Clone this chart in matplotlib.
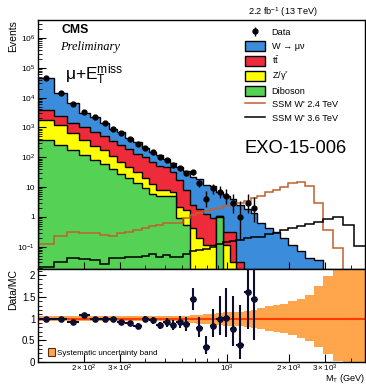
import numpy as np
import matplotlib
matplotlib.use('Agg')
from matplotlib import pyplot as plt
from matplotlib.patches import Patch
from matplotlib.lines import Line2D
from matplotlib.ticker import FixedLocator, FixedFormatter, NullFormatter

plt.rcParams['font.family'] = ['Liberation Sans', 'DejaVu Sans']
plt.rcParams['mathtext.fontset'] = 'custom'
plt.rcParams['mathtext.rm'] = 'Liberation Sans'
plt.rcParams['mathtext.it'] = 'Liberation Sans:italic'
plt.rcParams['mathtext.bf'] = 'Liberation Sans:bold'
plt.rcParams['xtick.direction'] = 'in'
plt.rcParams['ytick.direction'] = 'in'

# M_T binning (GeV)
bin_edges = [120, 143, 167, 190, 214, 241, 265, 291, 320, 350,
             383, 417, 452, 489, 526, 566, 611, 656, 705, 762,
             822, 886, 956, 1028, 1107, 1205, 1314, 1401, 1531, 1674,
             1811, 1982, 2191, 2398, 2651, 2931, 3279, 3667, 4147, 4690]

# Background yields per bin
wmunu = [41700, 11600, 5070, 1960, 1560, 878, 547, 453, 268, 201,
         105, 86, 70, 42, 33, 30.7, 26, 19.5, 16.2, 10.7,
         9.8, 6.0, 4.6, 3.6, 2.5, 1.85, 1.37, 0.63, 0.43, 0.31,
         0.2, 0.116, 0.073, 0.042, 0.036, 0, 0, 0, 0]
ttbar = [2036, 1196, 748, 647, 459, 338, 238, 187, 141, 96,
         82, 56, 43, 39, 25, 15.1, 6.3, 2.1, 1.65, 1.14,
         0.81, 0.04, 0.19, 0.28, 0.02, 0, 0, 0, 0, 0,
         0, 0, 0, 0, 0, 0, 0, 0, 0]
dy = [1378, 938, 471, 258, 156, 115, 70, 42, 27, 18.3,
      10.7, 6.8, 3.0, 3.0, 1.9, 1.23, 1.17, 0.43, 0.2, 0.116,
      0.116, 0.04, 0.116, 0.031, 0.011, 0, 0, 0, 0, 0,
      0, 0, 0, 0, 0, 0, 0, 0, 0]
diboson = [376, 256, 174, 118, 81, 59, 40, 27, 20, 13.7,
           9.3, 5.9, 5.0, 5.0, 5.0, 0.93, 0.54, 0, 0, 0,
           0, 1.0, 0, 0, 0, 0, 0, 0, 0, 0,
           0, 0, 0, 0, 0, 0, 0, 0, 0]

# Signal templates
ssm_2400 = [0.125, 0.23, 0.315, 0.29, 0.29, 0.25, 0.23, 0.29, 0.315, 0.37,
            0.43, 0.5, 0.54, 0.63, 0.63, 0.63, 0.9, 1.2, 1.4, 1.6,
            1.85, 2.0, 2.3, 2.6, 2.9, 3.3, 4.2, 5.2, 6.6, 8.3,
            10.1, 13.7, 14.8, 11.2, 2.94, 0.37, 0.092, 0, 0]
ssm_3600 = [0.021, 0.031, 0.042, 0.039, 0.037, 0.027, 0.042, 0.042, 0.046, 0.046,
            0.05, 0.058, 0.046, 0.054, 0.046, 0.046, 0.058, 0.073, 0.079, 0.085,
            0.099, 0.125, 0.146, 0.158, 0.17, 0.19, 0.21, 0.22, 0.26, 0.3,
            0.36, 0.42, 0.48, 0.56, 0.68, 0.86, 1.0, 0.54, 0.107]

# Observed events with Poisson errors
data = [44600, 14000, 6010, 3250, 2210, 1390, 877, 645, 406, 276,
        203, 149, 102, 81, 55, 44, 30, 32, 14, 4,
        9, 7, 5, 3, 1, 3, 2]
data_lo = [211, 118, 78, 57, 47, 37, 30, 25, 20, 17,
           14, 12, 10, 9, 7.4, 6.6, 5.5, 5.7, 3.7, 1.9,
           2.9, 2.6, 2.2, 1.6, 0.83, 1.6, 1.3]
data_hi = [211, 118, 78, 57, 47, 37, 30, 25, 20, 17,
           14, 12, 10, 9, 7.4, 6.6, 5.5, 5.7, 4.8, 3.2,
           4.1, 3.8, 3.4, 2.9, 2.3, 2.9, 2.6]

# Relative systematic uncertainty on the total background
syst_up = [0.05, 0.05, 0.05, 0.05, 0.05, 0.05, 0.05, 0.05, 0.05, 0.05,
           0.05, 0.05, 0.06, 0.06, 0.06, 0.07, 0.07, 0.08, 0.09, 0.10,
           0.11, 0.12, 0.14, 0.15, 0.16, 0.18, 0.20, 0.24, 0.28, 0.31,
           0.34, 0.40, 0.46, 0.55, 0.76, 0.98, 1.3, 1.6, 1.8]
syst_dn = [0.05, 0.05, 0.05, 0.05, 0.05, 0.05, 0.05, 0.05, 0.05, 0.05,
           0.05, 0.05, 0.06, 0.06, 0.06, 0.07, 0.07, 0.10, 0.12, 0.13,
           0.14, 0.15, 0.16, 0.17, 0.18, 0.20, 0.22, 0.25, 0.28, 0.31,
           0.33, 0.38, 0.44, 0.52, 0.65, 0.82, 0.97, 1.0, 1.0]

col_w = '#3b8ddc'
col_tt = '#ee2b3b'
col_z = '#ffff00'
col_vv = '#55d155'
col_sig = '#c0602e'
col_band = '#ffa64d'

edges = np.array(bin_edges, dtype=float)
centers = 0.5 * (edges[:-1] + edges[1:])
w = np.array(wmunu)
tt = np.array(ttbar)
zg = np.array(dy)
vv = np.array(diboson)
n = len(data)
yd = np.array(data, dtype=float)
xd = centers[:n]

fig = plt.figure(figsize=(3.66, 3.85), dpi=100)
ax = fig.add_axes([0.1038, 0.3013, 0.8934, 0.6468])
rax = fig.add_axes([0.1038, 0.0597, 0.8934, 0.2416])

# stacked backgrounds, outer layer first
floor = 1e-3
stack = [(vv + zg + tt + w, col_w), (vv + zg + tt, col_tt), (vv + zg, col_z), (vv, col_vv)]
for top, col in stack:
    ax.stairs(top, edges, baseline=floor, fill=True, color=col)
    ax.stairs(top, edges, baseline=floor, color='k', lw=1.0)

ax.stairs(ssm_2400, edges, baseline=None, color=col_sig, lw=1.1)
ax.stairs(ssm_3600, edges, baseline=None, color='k', lw=1.1)

h_data = ax.errorbar(xd, yd, yerr=[data_lo, data_hi], fmt='o', color='k', ms=3.5,
                     elinewidth=1.0, capsize=0, zorder=5)

ax.set_xscale('log')
ax.set_yscale('log')
ax.set_xlim(edges[0], edges[-1])
ax.set_ylim(0.018, 4e6)

xmaj = [200, 300, 1000, 2000, 3000]
xlab = [r'$\mathregular{2\times10^{2}}$', r'$\mathregular{3\times10^{2}}$', r'$\mathregular{10^{3}}$',
        r'$\mathregular{2\times10^{3}}$', r'$\mathregular{3\times10^{3}}$']
xmin = [m * 10.0 ** k for k in (2, 3) for m in range(1, 10) if m * 10.0 ** k not in xmaj]

ydec = [1e-1, 1, 10, 1e2, 1e3, 1e4, 1e5, 1e6]
ylab = [r'$\mathregular{10^{-1}}$', '1', '10', r'$\mathregular{10^{2}}$', r'$\mathregular{10^{3}}$',
        r'$\mathregular{10^{4}}$', r'$\mathregular{10^{5}}$', r'$\mathregular{10^{6}}$']
ax.yaxis.set_major_locator(FixedLocator(ydec))
ax.yaxis.set_major_formatter(FixedFormatter(ylab))
ax.yaxis.set_minor_locator(FixedLocator([m * 10.0 ** k for k in range(-2, 7) for m in range(2, 10)]))
ax.yaxis.set_minor_formatter(NullFormatter())
ax.xaxis.set_major_locator(FixedLocator(xmaj))
ax.xaxis.set_minor_locator(FixedLocator(xmin))
ax.xaxis.set_major_formatter(NullFormatter())
ax.xaxis.set_minor_formatter(NullFormatter())
ax.tick_params(axis='y', which='major', length=6, width=0.8, labelsize=6, pad=2)
ax.tick_params(axis='y', which='minor', length=3, width=0.6)
ax.tick_params(axis='x', which='major', length=5, width=0.8)
ax.tick_params(axis='x', which='minor', length=3, width=0.6)
for s in ax.spines.values():
    s.set_linewidth(1.0)

ax.set_ylabel('Events', fontsize=7.5, loc='top')
ax.yaxis.set_label_coords(-0.06, 1.0)

ax.text(0.073, 0.96, 'CMS', transform=ax.transAxes, fontsize=8.8, fontweight='bold', va='center')
ax.text(0.067, 0.892, 'Preliminary', transform=ax.transAxes, fontsize=9, style='italic',
        family='Liberation Serif', va='center')
ax.text(0.083, 0.759, '\u03bc+' + r'$\mathregular{E_{T}^{miss}}$', transform=ax.transAxes,
        fontsize=12.5, va='baseline')
ax.text(0.633, 0.466, 'EXO-15-006', transform=ax.transAxes, fontsize=13.2, va='baseline')
ax.text(0.749, 1.032, r'2.2 fb$^{-1}$ (13 TeV)', transform=ax.transAxes, fontsize=6.6,
        ha='center', va='center')

handles = [h_data,
           Patch(facecolor=col_w, edgecolor='k', lw=1),
           Patch(facecolor=col_tt, edgecolor='k', lw=1),
           Patch(facecolor=col_z, edgecolor='k', lw=1),
           Patch(facecolor=col_vv, edgecolor='k', lw=1),
           Line2D([], [], color=col_sig, lw=1.1),
           Line2D([], [], color='k', lw=1.1)]
labels = ['Data', 'W \u2192 \u03bc\u03bd', r'$\mathregular{t\bar{t}}$', r'$\mathregular{Z/\gamma^{*}}$',
          'Diboson', "SSM W' 2.4 TeV", "SSM W' 3.6 TeV"]
ax.legend(handles, labels, loc='upper left', bbox_to_anchor=(0.633, 0.97), frameon=False,
          fontsize=6.6, handlelength=2.2, handleheight=1.27, labelspacing=0.36,
          handletextpad=0.7, borderpad=0, borderaxespad=0)

# ratio panel
mc_tot = (vv + zg + tt + w)[:n]
ratio = yd / mc_tot
rax.fill_between(edges, np.r_[1 - np.array(syst_dn), 1 - syst_dn[-1]],
                 np.r_[1 + np.array(syst_up), 1 + syst_up[-1]], step='post', color=col_band, lw=0)
rax.axhline(1, color='#ff3c00', lw=1.5)
rax.errorbar(xd, ratio, xerr=[xd - edges[:n], edges[1:n + 1] - xd],
             yerr=[np.array(data_lo) / mc_tot, np.array(data_hi) / mc_tot],
             fmt='o', color='#0d0d30', ms=3.8, elinewidth=1.5, capsize=0, zorder=5)

rax.set_xscale('log')
rax.set_xlim(edges[0], edges[-1])
rax.set_ylim(0, 2.14)
rax.xaxis.set_major_locator(FixedLocator(xmaj))
rax.xaxis.set_major_formatter(FixedFormatter(xlab))
rax.xaxis.set_minor_locator(FixedLocator(xmin))
rax.xaxis.set_minor_formatter(NullFormatter())
rax.yaxis.set_major_locator(FixedLocator([0, 0.5, 1, 1.5, 2]))
rax.yaxis.set_major_formatter(FixedFormatter(['0', '0.5', '1', '1.5', '2']))
rax.yaxis.set_minor_locator(FixedLocator(np.arange(0.1, 2.14, 0.1)))
rax.tick_params(axis='x', which='major', length=6, width=0.8, labelsize=5.8, pad=0.5)
rax.tick_params(axis='x', which='minor', length=3, width=0.6)
rax.tick_params(axis='y', which='major', length=6, width=0.8, labelsize=7, pad=2)
rax.tick_params(axis='y', which='minor', length=3, width=0.6)
for s in rax.spines.values():
    s.set_linewidth(1.0)

rax.set_ylabel('Data/MC', fontsize=7.5, loc='top')
rax.yaxis.set_label_coords(-0.061, 1.0)
fig.text(0.997, 0.0, r'$\mathregular{M_{T}}$ (GeV)', fontsize=6.6, ha='right', va='bottom')

rax.legend([Patch(facecolor=col_band, edgecolor='#5a3010', lw=0.8)], ['Systematic uncertainty band'],
           loc='lower left', bbox_to_anchor=(0.031, 0.054), frameon=False, fontsize=5.8,
           handlelength=0.9, handleheight=1.1, handletextpad=0.25, borderpad=0, borderaxespad=0)

fig.savefig('out.png', dpi=100)
